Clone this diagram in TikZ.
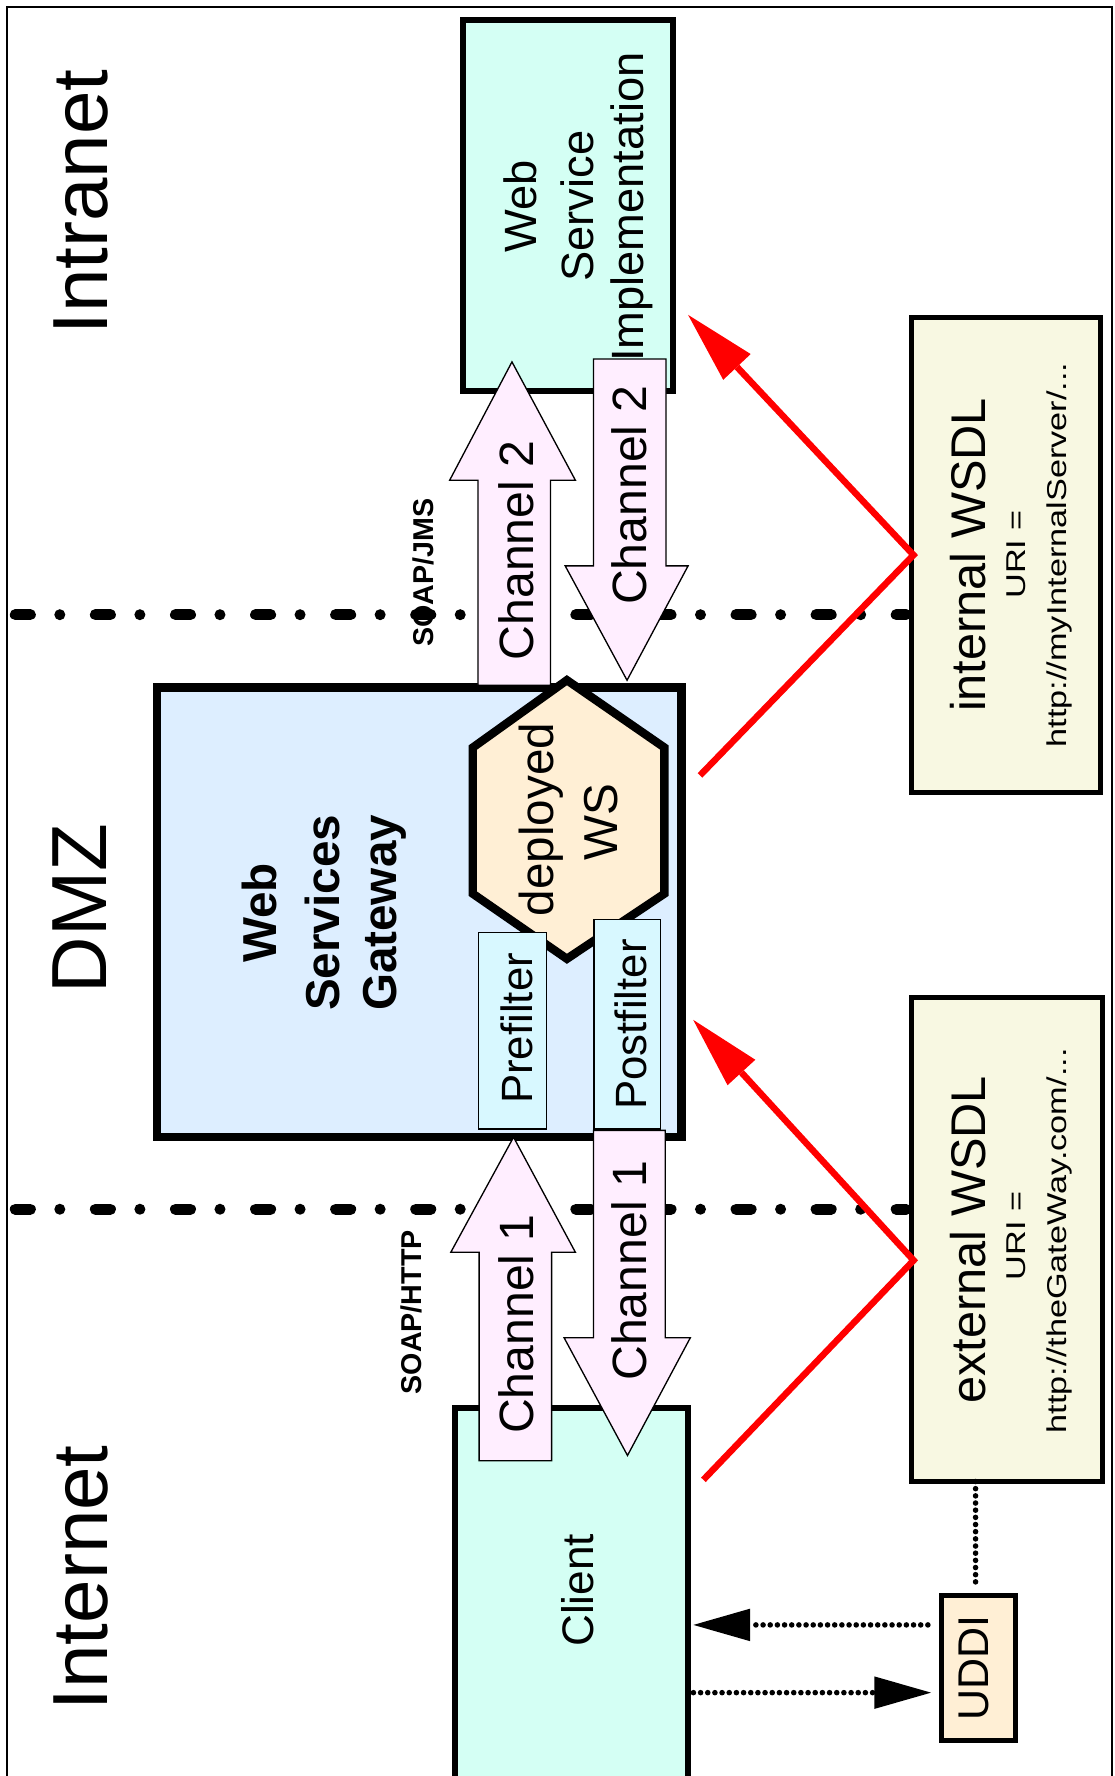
\documentclass[tikz,border=0pt]{standalone}
\usepackage{fontspec}
\usepackage{graphicx}
\setmainfont{Liberation Sans}
\usetikzlibrary{arrows.meta,calc}

\definecolor{implfill}{HTML}{D4FFF4}
\definecolor{gatefill}{HTML}{DDEEFF}
\definecolor{hexfill}{HTML}{FFEFD5}
\definecolor{filterfill}{HTML}{D8F8FF}
\definecolor{chanfill}{HTML}{FFEEFF}
\definecolor{wsdlfill}{HTML}{F8F8E2}

% one drawing unit
\newlength\pxu
\setlength\pxu{0.03cm}

\begin{document}
\begin{tikzpicture}[x=0.03cm, y=-0.03cm,
  lbl/.style={rotate=90, anchor=base, inner sep=0pt, outer sep=0pt},
  zonelbl/.style={lbl, font=\fontsize{58.9}{70}\selectfont},
  boxlbl/.style={lbl, font=\fontsize{34.1}{40}\selectfont},
  gatelbl/.style={lbl, font=\fontsize{35.9}{42}\selectfont\bfseries},
  hexlbl/.style={lbl, font=\fontsize{35.9}{42}\selectfont},
  filterlbl/.style={lbl, font=\fontsize{33}{40}\selectfont},
  chanlbl/.style={lbl, font=\fontsize{36.3}{43}\selectfont},
  clientlbl/.style={lbl, font=\fontsize{33.3}{40}\selectfont},
  uddilbl/.style={lbl, font=\fontsize{32.4}{39}\selectfont},
  wsdlttl/.style={lbl, font=\fontsize{36.7}{44}\selectfont},
  wsdlsmall/.style={lbl, font=\fontsize{20.5}{25}\selectfont},
  protolbl/.style={lbl, font=\fontsize{21.6}{26}\selectfont\bfseries},
  box/.style={draw, rectangle, inner sep=0pt, outer sep=0pt},
  implbox/.style={box, fill=implfill, line width=4.3pt},
  gatebox/.style={box, fill=gatefill, line width=6.4pt},
  wsdlbox/.style={box, fill=wsdlfill, line width=3.8pt},
  uddibox/.style={box, fill=hexfill, line width=3.8pt},
  filterbox/.style={box, fill=filterfill, line width=1pt},
  chanarrow/.style={draw, fill=chanfill, line width=1pt, line join=miter},
  hexshape/.style={draw, fill=hexfill, line width=6.3pt, line join=miter},
  zoneline/.style={line width=8.3pt, line cap=round,
    dash pattern=on 11.35pt off 22.2pt on 0pt off 26.8pt},
  redline/.style={draw=red, line width=4.9pt, line join=miter,
    -{Triangle[length=53.8pt, width=28.4pt, line width=0pt]}},
  dotline/.style={line width=4.2pt, line cap=round, dash pattern=on 0pt off 5.4pt},
  dotarrow/.style={dotline, -{Triangle[length=42.7pt, width=24.5pt, line width=0pt]}},
]
\useasboundingbox (0,0) rectangle (984,1568);

% outer frame
\draw[line width=1.7pt] (6,1580) -- (6,6) -- (982,6) -- (982,1580);

% zone boundaries
\draw[zoneline] (13.5,542.7) -- (800,542.7);
\draw[zoneline] (13.5,1067.6) -- (800,1067.6);

% zone names
\node[zonelbl] (intranet) at (94.5,178.5) {Intranet};
\node[zonelbl] (dmz) at (94,802) {DMZ};
\node[zonelbl] (internet) at (95,1393) {Internet};

% main boxes
\node[implbox, minimum width=185*\pxu, minimum height=327.8*\pxu] (impl) at (501.5,181.6) {};
\node[gatebox, minimum width=463*\pxu, minimum height=397.2*\pxu] (gateway) at (370.3,805.4) {};
\node[implbox, minimum width=205.8*\pxu, minimum height=329.2*\pxu] (client) at (504.3,1407.4) {};
\node[wsdlbox, minimum width=167*\pxu, minimum height=419*\pxu] (intwsdl) at (888,490) {};
\node[wsdlbox, minimum width=168.4*\pxu, minimum height=427*\pxu] (extwsdl) at (888.8,1094.5) {};
\node[uddibox, minimum width=65.2*\pxu, minimum height=128.1*\pxu] (uddi) at (863.8,1472.3) {};

% channel block arrows
\draw[chanarrow] (452,319.5) -- (508,424) -- (486,424) -- (486,605) -- (422,605) -- (422,424) -- (397,424) -- cycle;
\draw[chanarrow] (524,317) -- (588,317) -- (588,499.6) -- (607.5,499.6) -- (553.6,600.6) -- (499,499.6) -- (524,499.6) -- cycle;
\draw[chanarrow] (453.4,1004) -- (508,1105.6) -- (487,1105.6) -- (487,1289.6) -- (423,1289.6) -- (423,1105.6) -- (398,1105.6) -- cycle;
\draw[chanarrow] (524,998) -- (587.4,998) -- (587.4,1181) -- (609.5,1181) -- (554,1285) -- (498,1181) -- (524,1181) -- cycle;

% deployed web service
\draw[hexshape] (500.5,600.5) -- (586.6,660) -- (586.6,789) -- (500.5,846.5) -- (417.4,789) -- (417.4,660) -- cycle;

% filters
\node[filterbox, minimum width=60.4*\pxu, minimum height=173.5*\pxu] (prefilter) at (452.5,910) {};
\node[filterbox, minimum width=59*\pxu, minimum height=185*\pxu] (postfilter) at (553.8,904.4) {};

% labels
\node[boxlbl] (impl1) at (474,182) {Web};
\node[boxlbl] (impl2) at (524,182) {Service};
\node[boxlbl] (impl3) at (568,183) {Implementation};
\node[gatelbl] (gw1) at (244.4,806) {Web};
\node[gatelbl] (gw2) at (300,806) {Services};
\node[gatelbl] (gw3) at (350,806) {Gateway};
\node[hexlbl] (dep1) at (489,723.6) {deployed};
\node[hexlbl] (dep2) at (545,726) {WS};
\node[filterlbl] (pre) at (470,908) {Prefilter};
\node[filterlbl] (post) at (571,904.5) {Postfilter};
\node[chanlbl] (ch2up) at (471,486) {Channel 2};
\node[chanlbl] (ch2dn) at (571,437) {Channel 2};
\node[chanlbl] (ch1up) at (471,1169) {Channel 1};
\node[chanlbl] (ch1dn) at (571,1122) {Channel 1};
\node[clientlbl] (clientname) at (524,1404) {Client};
\node[uddilbl] (uddiname) at (873,1473) {UDDI};
\node[wsdlttl] (int1) at (870,490) {internal WSDL};
\node[wsdlsmall] (int2) at (905,489.5) {\scalebox{1.26}[1]{URI =}};
\node[wsdlsmall] (int3) at (942,490) {\scalebox{1.26}[1]{http://myInternalServer/...}};
\node[wsdlttl] (ext1) at (870,1094.5) {external WSDL};
\node[wsdlsmall] (ext2) at (905,1091) {\scalebox{1.26}[1]{URI =}};
\node[wsdlsmall] (ext3) at (942,1095.5) {\scalebox{1.26}[1]{http://theGateWay.com/...}};
\node[protolbl] (jms) at (382.6,505.5) {SOAP/JMS};
\node[protolbl] (http) at (372.5,1158.6) {SOAP/HTTP};

% WSDL references
\coordinate (inttip) at (607.5,278);
\coordinate (intlow) at (618,684.6);
\coordinate (intv) at ($(intwsdl.west)+(2,0)$);
\draw[redline] (intlow) -- (intv) -- (inttip);
\coordinate (exttip) at (612,900.4);
\coordinate (extlow) at (621,1306.5);
\coordinate (extv) at ($(extwsdl.west)+(2,18.2)$);
\draw[redline] (extlow) -- (extv) -- (exttip);

% UDDI lookup
\coordinate (d1) at ($(uddi.north)+(-2.5,-9)$);
\draw[dotline] (d1 |- extwsdl.south) -- (d1);
\coordinate (u1) at ($(uddi.west)+(-12,-37.7)$);
\coordinate (c1) at (client.east |- u1);
\draw[dotarrow] (u1) -- ($(c1)+(5,0)$);
\coordinate (u2) at ($(uddi.west)+(-9.2,22.1)$);
\coordinate (c2) at (client.east |- u2);
\draw[dotarrow] ($(c2)+(5,0)$) -- (u2);
\end{tikzpicture}
\end{document}
